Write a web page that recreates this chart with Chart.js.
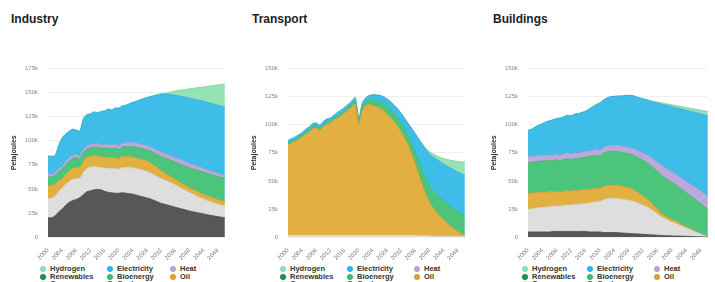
<!DOCTYPE html>
<html>
<head>
<meta charset="utf-8">
<script src="https://cdn.jsdelivr.net/npm/chart.js@4/dist/chart.umd.min.js"></script>
<style>
  body { margin: 0; width: 715px; height: 282px; overflow: hidden; background: #fff; position: relative;
         font-family: "Liberation Sans", Arial, sans-serif; }
  .title { position: absolute; top: 12px; font-size: 12px; font-weight: bold; color: #222; }
  canvas { position: absolute; top: 55px; }
  .leg { position: absolute; font-size: 7.5px; font-weight: 600; color: #333; white-space: nowrap; line-height: 8px; }
  .leg i { display: inline-block; width: 6px; height: 6px; border-radius: 50%; margin-right: 4px; vertical-align: -1px; }
</style>
</head>
<body>
<div class="title" style="left:11px">Industry</div>
<div class="title" style="left:252px">Transport</div>
<div class="title" style="left:493px">Buildings</div>
<canvas id="industry" width="232" height="207" style="left:0px"></canvas>
<canvas id="transport" width="232" height="207" style="left:240px"></canvas>
<canvas id="buildings" width="235" height="207" style="left:480px"></canvas>
<div id="legends"></div>
<script>
// years on the x axis, labels shown every 4 years
const years = [2000,2001,2002,2003,2004,2005,2006,2007,2008,2009,2010,2011,2012,2013,2014,2015,2016,2017,2018,2019,
  2020,2021,2022,2023,2024,2025,2026,2027,2028,2029,2030,2031,2032,2033,2034,2035,2036,2037,2038,2039,
  2040,2041,2042,2043,2044,2045,2046,2047,2048,2049,2050];
const yearTicks = ['2000','2004','2008','2012','2016','2020','2024','2028','2032','2036','2040','2044','2048'];

// legend order (3 columns)
const legendNames = ['Hydrogen','Electricity','Heat','Renewables','Bioenergy','Oil','Gas','Coal'];
const legendDots = ['#8ee0b3','#2fb3e6','#b9a2dc','#17924a','#3dbb6c','#dca22a','#dcdcdc','#555555'];

// values in thousand petajoules
// --- Industry ---
const indCoal = [20,20,22,26,29,33,36,38,39,41, 44,47,48,49,49.5,49,47.5,46.5,46,45.5, 45.5,46,45.5,45,44.5,43.5,42.5,41.5,40.5,39.5,
  38,36.5,35,34,33,32,31,30,29,28, 27,26.2,25.5,24.7,24,23.2,22.5,21.8,21.2,20.6,20];
const indGas = [20,20,20,21,21.5,21.5,21.5,22,21.5,20, 23,24,24.5,24,23,23,24,24.5,25,25.5, 25,26,26.5,27,27.5,27.5,27.5,27.5,27.5,27,
  26.5,26,25.5,25,24.5,23.8,23,22,21,20, 19,18.2,17.2,16.2,15.3,14.6,14,13.4,12.8,12.4,12];
const indOil = [13.5,13.5,13,11,10,10.5,11,11.5,11.8,11, 11.5,11.8,11.6,11.5,11.8,11.2,11.5,11.6,11.2,11.5, 10.5,11.5,11.5,11.3,11.2,11.2,11.1,11,11,10.4,
  9.7,9,8.3,7.6,6.9,6.3,5.8,5.5,5.3,5.1, 5,5,5,5,5,5,5,5,5,5,5];
const indBio = [9,9,9,9.5,10,10,10,10,10,9, 9,8.5,8.5,8.7,9,9.2,9.4,9.6,9.8,10, 10,10.2,10.4,10.6,10.8,11,11.3,11.6,11.8,12.5,
  13.2,14,14.8,15.6,16.4,17.2,18,18.8,19.5,20.2, 20.8,21.4,22,22.5,23,23.3,23.6,23.8,24,24,24];
const indHeat = [3,3,3,3.2,3.3,3.3,3.3,3.3,3.3,3, 3.3,3.4,3.4,3.5,3.5,3.3,3.5,3.6,3.6,3.7, 3.5,3.8,3.9,4,4,4,4,4,4,4.1,
  4.2,4.3,4.4,4.5,4.6,4.7,4.8,4.8,4.7,4.6, 4.5,4.3,4.2,4,3.9,3.7,3.5,3.3,3.1,2.9,2.7];
const indElec = [18.5,18.5,17.5,24.3,29.2,28.7,28.2,27.2,25.4,26, 32.2,32.3,32,33.3,32.2,34.8,35.1,37.2,36.4,37.8,
  39.5,38.5,39.2,40.6,42,43.8,46.1,48.4,50.2,52.5, 55.4,58.1,60.5,62,62.9,64,64.7,65.6,66.5,67.4,
  68.2,68.4,68.8,69.4,69.8,70.2,70.4,70.7,70.9,71.1,71.3];
const indH2 = [0,0,0,0,0,0,0,0,0,0, 0,0,0,0,0,0,0,0,0,0, 0,0,0,0,0,0,0,0,0,0,
  0,0.1,0.2,0.6,1.7,3,4.5,5.8,7,8.2, 9.5,11,12.3,13.7,15,16.5,18,19.5,21,22.5,24];

// --- Transport ---
const trGas = [1.5,1.5,1.5,1.5,1.5,1.5,1.5,1.5,1.5,1.5, 1.5,1.5,1.5,1.5,1.5,1.5,1.5,1.5,1.5,1.5, 1.5,1.5,1.5,1.5,1.5,1.5,1.5,1.5,1.5,1.5,
  1.5,1.5,1.5,1.5,1.5,1.5,1.4,1.3,1.2,1.1, 1,0.9,0.8,0.8,0.7,0.7,0.6,0.6,0.5,0.5,0.5];
const trOil = [80.5,82,83.5,85.5,87.5,90,92,95,95.5,93.5, 97,99,100,102.5,104.5,106.5,109,111.5,114,117,
  99,111,115.5,116.5,115.5,114.5,113,111,108,104.5, 101,97,92,86,80,72,63,54,45,37,
  30,25,21,17.5,14.5,11.5,9,6.5,4.5,2.5,1];
const trBio = [1.5,1.5,1.6,1.6,1.7,1.8,1.8,1.9,1.9,2, 2,2,2.1,2.1,2.2,2.2,2.3,2.3,2.4,2.4, 2.5,3,3.5,4,4.5,5,5.5,6,6.3,6.6,
  7,7.3,7.7,8.2,8.8,9.5,10.5,11.5,12.5,13.5, 14.5,15.5,16.5,17,17.3,17.5,17.6,17.6,17.5,17.4,17.3];
const trElec = [2.5,2.5,2.4,2.4,2.3,2.7,2.7,2.6,2.6,2.5, 2.5,2.5,2.4,2.4,2.8,2.8,2.7,2.7,3.1,3.1, 3,3.5,3.5,4,5.2,5.5,6,6.5,7.2,7.9,
  8,8.2,8.8,9.8,10.7,13.5,16.8,20.1,23.3,25.9, 28.5,30,31,31.7,32.5,33.3,34.1,34.9,35.3,35.8,35.9];
const trH2 = [0,0,0,0,0,0,0,0,0,0, 0,0,0,0,0,0,0,0,0,0, 0,0,0,0,0,0,0,0,0,0,
  0,0,0,0,0,0,0.3,0.6,1,1.5, 2,2.6,3.2,4,5,6,7,8.2,9.5,10.8,12];

// --- Buildings ---
const bdCoal = [4.5,4.5,4.5,4.5,4.5,4.5,4.5,5,5,5, 5,5,5,5,5,5,5,4.5,4.5,4.5, 4.5,4,4,4,4,3.8,3.6,3.4,3.2,3,
  2.8,2.6,2.4,2.2,2,1.8,1.6,1.4,1.2,1.1, 1,0.9,0.8,0.7,0.6,0.5,0.4,0.3,0.2,0.1,0];
const bdGas = [20.2,20.5,21,21.5,21.8,22.1,22.5,22.3,22.6,22.5, 23,23.5,23.3,23.8,24,24.5,24.8,25.8,26.3,26.8,
  27,29,30,30.3,30.2,30.2,30,29.8,29.4,29, 28,26.9,25.8,24.8,23,21,18.8,16.6,15.2,13.7,
  12.3,11.1,9.8,8.5,7.2,6,4.8,3.6,2.4,1.2,0];
const bdOil = [14.3,14.2,14,13.8,13.6,13.4,13.2,13,12.9,12.5, 12.8,12.7,12.5,12.6,12.4,12.5,12.3,12.2,12.1,12.2,
  11.8,12,12,12,12,12,11.8,11.5,11.2,11, 10,9,8,7,6,5,4,3,2.7,2.4, 2.2,2,1.7,1.5,1.2,1,0.7,0.4,0.2,0.1,0];
const bdBio = [27.4,27.4,27.5,27.6,27.7,27.8,27.9,28,28.2,28, 28.3,28.5,28.3,28.6,28.5,28.8,28.9,29,29.2,29.4,
  29,29.6,29.8,30,30,30,30.1,30.2,30.4,30.5, 31,31.5,32,32.5,33,33.5,34,34.5,34,33.5,
  33,32.5,32,31.2,30.4,29.6,28.8,28,27,25.8,24.7];
const bdHeat = [5.2,5.2,5.1,5,5,4.9,4.9,4.8,4.8,4.8, 4.8,4.9,4.9,4.9,4.9,5,5,5,5,5, 5,5,5,5.1,5.2,5.3,5.4,5.4,5.5,5.5,
  5.8,6.1,6.5,6.9,7.3,7.7,8.1,8.5,8.7,8.9, 9.1,9.3,9.5,9.7,9.9,10.1,10.4,10.7,11,11.2,11.3];
const bdElec = [23.4,24.2,25.9,27.1,28.4,29.8,30.5,31.4,32,33.2, 33.1,33.9,34,34.6,35.2,35.2,36,37.5,38.9,40.1,
  42.2,42.4,43.2,43.6,43.9,44.2,44.8,45.7,46.5,47, 47.4,47.8,48.3,48.7,49.8,51.1,52.8,54.5,55.9,57.3,
  58.5,59.5,60.7,62.1,63.6,64.9,66.2,67.5,68.9,70.5,72.1];
const bdH2 = [0,0,0,0,0,0,0,0,0,0, 0,0,0,0,0,0,0,0,0,0, 0,0,0,0,0,0,0,0,0,0,
  0,0.1,0.2,0.3,0.5,0.7,0.9,1.1,1.3,1.5, 1.7,1.9,2.1,2.3,2.5,2.7,2.9,3.1,3.3,3.5,3.7];

const fills = {
  Coal: '#575757', Gas: '#dedede', Oil: '#e2b040', Bioenergy: '#4cc47c',
  Heat: '#bba9db', Electricity: '#3fbde9', Hydrogen: '#93e3b5'
};
const edges = {
  Coal: '#4a4a4a', Gas: '#cfcfcf', Oil: '#c99a30', Bioenergy: '#3fae6a',
  Heat: '#a896c8', Electricity: '#35a8d0', Hydrogen: '#7fcf9f'
};

function drawPanel(id, layers, yMax, rightPad) {
  new Chart(document.getElementById(id), {
    type: 'line',
    data: {
      labels: years,
      datasets: layers.map((l, i) => ({
        label: l[0],
        data: l[1],
        backgroundColor: fills[l[0]],
        borderColor: edges[l[0]],
        borderWidth: 0.8,
        pointRadius: 0,
        tension: 0.25,
        fill: i === 0 ? 'origin' : '-1'
      }))
    },
    options: {
      responsive: false,
      animation: false,
      layout: { padding: { top: 8, right: rightPad, left: 0, bottom: 0 } },
      plugins: { legend: { display: false }, tooltip: { enabled: false } },
      scales: {
        x: {
          grid: { display: false },
          border: { display: false },
          ticks: {
            autoSkip: false, minRotation: 45, maxRotation: 45, padding: 2,
            color: '#777', font: { size: 6 },
            callback: function (v) {
              const y = String(this.getLabelForValue(v));
              return yearTicks.includes(y) ? y : '';
            }
          },
          afterFit: s => { s.height = 25; }
        },
        y: {
          stacked: true,
          min: 0, max: yMax,
          grid: { color: '#ececec', lineWidth: 0.8, drawTicks: false },
          border: { display: false },
          ticks: {
            stepSize: 25, padding: 10, color: '#888', font: { size: 6 },
            callback: v => v === 0 ? '0' : v + 'k'
          },
          title: {
            display: true, text: 'Petajoules', color: '#333',
            font: { size: 7, weight: 'bold' }, padding: { top: 10, bottom: 0 }
          },
          afterFit: s => { s.width = 48; }
        }
      }
    }
  });
}

drawPanel('industry', [
  ['Coal', indCoal], ['Gas', indGas], ['Oil', indOil], ['Bioenergy', indBio],
  ['Heat', indHeat], ['Electricity', indElec], ['Hydrogen', indH2]
], 175, 6);
drawPanel('transport', [
  ['Gas', trGas], ['Oil', trOil], ['Bioenergy', trBio],
  ['Electricity', trElec], ['Hydrogen', trH2]
], 150, 4);
drawPanel('buildings', [
  ['Coal', bdCoal], ['Gas', bdGas], ['Oil', bdOil], ['Bioenergy', bdBio],
  ['Heat', bdHeat], ['Electricity', bdElec], ['Hydrogen', bdH2]
], 150, 7);

// legends under each panel
const legendCols = [[43, 110, 173], [283, 350, 417], [525, 590, 657]];
const legendRows = [269, 276.5, 284];
const box = document.getElementById('legends');
legendCols.forEach(cols => {
  legendNames.forEach((name, k) => {
    const d = document.createElement('div');
    d.className = 'leg';
    d.style.left = (cols[k % 3] - 3) + 'px';
    d.style.top = (legendRows[Math.floor(k / 3)] - 4) + 'px';
    d.innerHTML = '<i style="background:' + legendDots[k] + '"></i>' + name;
    box.appendChild(d);
  });
});
</script>
</body>
</html>
